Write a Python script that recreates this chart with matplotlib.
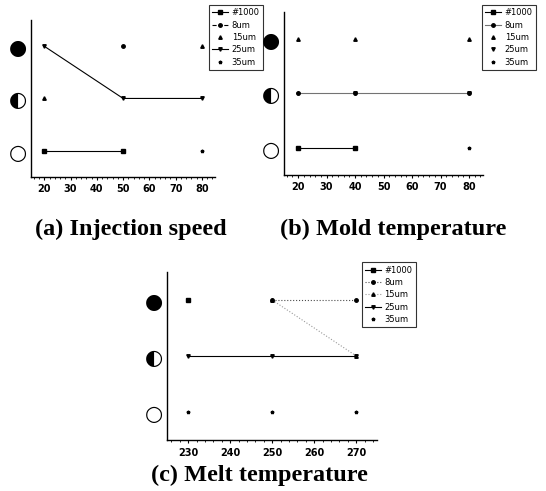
import matplotlib
matplotlib.use("Agg")
import matplotlib.pyplot as plt
import numpy as np

nan = np.nan

# levels: 0 = empty circle, 1 = half circle, 2 = full circle
level_labels = ["\u25cb", "\u25d0", "\u25cf"]
series_names = ["#1000", "8um", "15um", "25um", "35um"]

# (a) Injection speed
speed_x = [20, 50, 80]
speed_y = {
    "#1000": [0, 0, nan],
    "8um": [nan, 2, nan],
    "15um": [1, nan, 2],
    "25um": [2, 1, 1],
    "35um": [nan, nan, 0],
}

# (b) Mold temperature
mold_x = [20, 40, 80]
mold_y = {
    "#1000": [0, 0, nan],
    "8um": [1, 1, 1],
    "15um": [2, 2, 2],
    "25um": [nan, 1, 1],
    "35um": [1, nan, 0],
}

# (c) Melt temperature
melt_x = [230, 250, 270]
melt_y = {
    "#1000": [2, nan, nan],
    "8um": [nan, 2, 2],
    "15um": [nan, 2, 1],
    "25um": [1, 1, 1],
    "35um": [0, 0, 0],
}

speed_ticks = [20, 30, 40, 50, 60, 70, 80]
mold_ticks = [20, 30, 40, 50, 60, 70, 80]
melt_ticks = [230, 240, 250, 260, 270]

markers = {"#1000": "s", "8um": "o", "15um": "^", "25um": "v", "35um": "*"}

styles_a = {"#1000": ("-", "black"), "8um": ("--", "black"), "15um": ("none", "black"),
            "25um": ("-", "black"), "35um": ("none", "black")}
styles_b = {"#1000": ("-", "black"), "8um": ("-", "0.45"), "15um": ("none", "black"),
            "25um": ("none", "black"), "35um": ("none", "black")}
styles_c = {"#1000": ("-", "black"), "8um": (":", "0.3"), "15um": (":", "0.6"),
            "25um": ("-", "black"), "35um": ("none", "black")}

fig = plt.figure(figsize=(5.46, 4.91), dpi=100)


def panel(rect, x, ydict, styles, ticks, xlim, title, title_xy, leg_xy):
    ax = fig.add_axes(rect)
    for name in series_names:
        ls, col = styles[name]
        ax.plot(x, ydict[name], linestyle=ls, color=col, linewidth=0.8,
                marker=markers[name], markersize=2.5, markerfacecolor="black",
                markeredgecolor="black", label=name)
    ax.set_xlim(*xlim)
    ax.set_ylim(-0.5, 2.5)
    ax.set_xticks(ticks)
    ax.set_xticklabels([str(t) for t in ticks], fontsize=7, fontweight="bold")
    ax.set_yticks([0, 1, 2])
    ax.set_yticklabels(level_labels, fontsize=15, family="DejaVu Sans")
    ax.tick_params(axis="x", length=2.5, width=0.8, pad=3)
    ax.tick_params(axis="y", length=0, pad=3)
    ax.minorticks_on()
    ax.tick_params(which="minor", length=1.5, width=0.6)
    ax.yaxis.set_minor_locator(matplotlib.ticker.NullLocator())
    for s in ["top", "right"]:
        ax.spines[s].set_visible(False)
    for s in ["left", "bottom"]:
        ax.spines[s].set_linewidth(1.0)
    leg = ax.legend(loc="upper left", bbox_to_anchor=leg_xy,
                    bbox_transform=fig.transFigure, fontsize=6,
                    frameon=True, fancybox=False, edgecolor="black",
                    handlelength=1.9, labelspacing=0.4, borderpad=0.4,
                    handletextpad=0.4, borderaxespad=0)
    leg.get_frame().set_linewidth(0.8)
    fig.text(title_xy[0], title_xy[1], title, ha="center", va="center",
             fontsize=17.5, fontweight="bold", family="Liberation Serif")
    return ax


panel([0.057, 0.640, 0.337, 0.319], speed_x, speed_y, styles_a, speed_ticks,
      (15, 85), "(a) Injection speed", (0.240, 0.532), (0.383, 0.990))
panel([0.520, 0.644, 0.365, 0.332], mold_x, mold_y, styles_b, mold_ticks,
      (15, 85), "(b) Mold temperature", (0.721, 0.532), (0.883, 0.990))
panel([0.306, 0.104, 0.385, 0.342], melt_x, melt_y, styles_c, melt_ticks,
      (225, 275), "(c) Melt temperature", (0.476, 0.031), (0.663, 0.466))

fig.savefig("out.png", dpi=100)
